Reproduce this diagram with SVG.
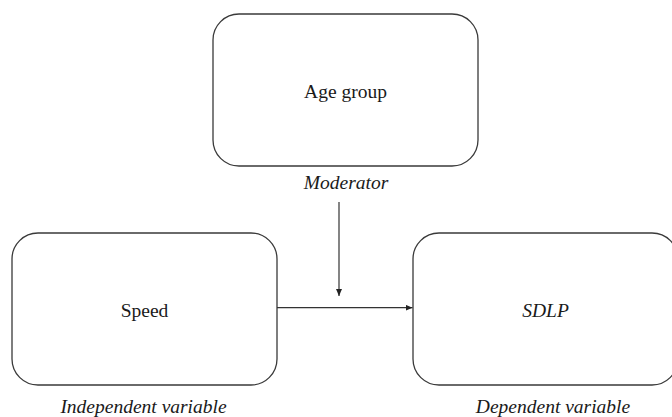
<svg xmlns="http://www.w3.org/2000/svg" width="672" height="417" viewBox="0 0 672 417">
<style>
  .box { fill: #ffffff; stroke: #3a3a3a; stroke-width: 1.3; }
  .t { font-family: "Liberation Serif", "Times New Roman", serif; font-size: 19.5px; fill: #1a1a1a; text-anchor: middle; }
  .i { font-style: italic; }
  .conn { stroke: #333333; stroke-width: 1.2; fill: none; }
</style>
<defs>
  <marker id="arr" markerWidth="8" markerHeight="6" refX="7" refY="3" orient="auto" markerUnits="userSpaceOnUse">
    <path d="M0,0 L7,3 L0,6 Z" fill="#222222"/>
  </marker>
</defs>
<rect width="672" height="417" fill="#ffffff"/>
<g id="node-age">
  <rect class="box" x="213" y="14" width="265" height="152" rx="26" ry="26"/>
  <text class="t" x="345.5" y="98">Age group</text>
  <text class="t i" x="346" y="189">Moderator</text>
</g>
<g id="node-speed">
  <rect class="box" x="12" y="233" width="265" height="152" rx="26" ry="26"/>
  <text class="t" x="144.5" y="317">Speed</text>
  <text class="t i" x="143.5" y="413">Independent variable</text>
</g>
<g id="node-sdlp">
  <rect class="box" x="413" y="233" width="265" height="152" rx="26" ry="26"/>
  <text class="t i" x="545.5" y="317">SDLP</text>
  <text class="t i" x="553" y="413">Dependent variable</text>
</g>
<g id="connectors">
  <line class="conn" x1="339" y1="202" x2="339" y2="296" marker-end="url(#arr)"/>
  <line class="conn" x1="277" y1="307.7" x2="412.5" y2="307.7" marker-end="url(#arr)"/>
</g>
</svg>
